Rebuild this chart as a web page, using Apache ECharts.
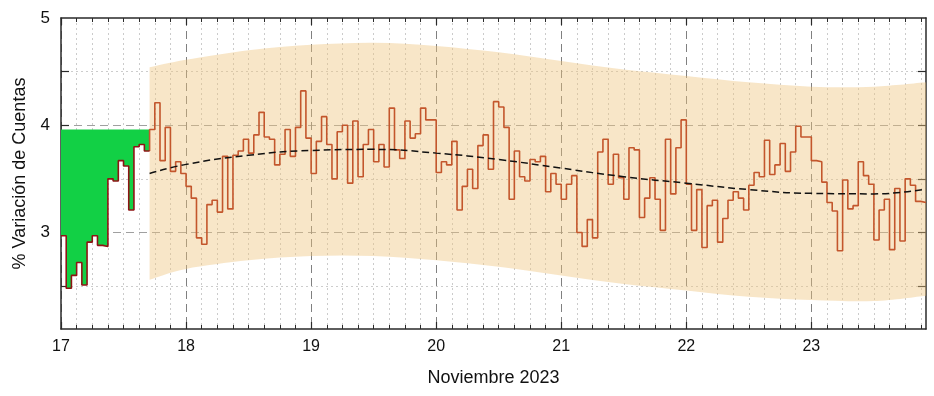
<!DOCTYPE html>
<html><head><meta charset="utf-8">
<script src="https://cdn.jsdelivr.net/npm/echarts@6/dist/echarts.min.js"></script>
<style>html,body{margin:0;padding:0;background:#fff}#c{width:934px;height:396px}</style>
</head><body><div id="c"></div>
<script>
// ---- data ----
const startDay = 17;            // 17 Nov 2023, 00:00
const stepDays = 1 / 24;        // hourly bins
const xMax = 17 + 166 / 24;
const greenBaseline = 3.96;
const greenValues = [2.97, 2.48, 2.60, 2.72, 2.51, 2.91, 2.97, 2.88, 2.87, 3.50, 3.48, 3.67, 3.62, 3.21, 3.80, 3.82, 3.76];
const orangeValues = [
  3.96, 4.21, 3.67, 3.98, 3.57, 3.66, 3.55, 3.43, 3.32, 2.95, 2.89, 3.26, 3.30, 3.19, 3.71, 3.22,
  3.72, 3.76, 3.87, 3.74, 3.91, 4.12, 3.89, 3.87, 3.63, 3.73, 3.96, 3.71, 3.98, 4.32, 3.88, 3.55,
  3.85, 4.08, 3.82, 3.50, 3.94, 4.00, 3.46, 4.04, 3.52, 3.82, 3.96, 3.66, 3.82, 3.61, 4.16, 3.77,
  3.69, 4.04, 3.88, 3.92, 4.16, 4.05, 4.05, 3.56, 3.66, 3.63, 3.85, 3.21, 3.43, 3.59, 3.41, 3.81,
  3.91, 3.59, 4.22, 4.17, 3.98, 3.31, 3.76, 3.52, 3.48, 3.68, 3.66, 3.71, 3.38, 3.55, 3.45, 3.31,
  3.45, 3.53, 3.00, 2.87, 3.12, 2.95, 3.75, 3.87, 3.45, 3.73, 3.51, 3.31, 3.79, 3.77, 3.14, 3.32,
  3.51, 3.31, 3.02, 3.87, 3.36, 3.79, 4.05, 3.45, 3.02, 3.40, 2.86, 3.25, 3.30, 2.91, 3.13, 3.30,
  3.38, 3.32, 3.21, 3.44, 3.56, 3.52, 3.86, 3.54, 3.63, 3.83, 3.57, 3.75, 3.99, 3.89, 3.89, 3.67,
  3.66, 3.47, 3.28, 3.20, 2.83, 3.49, 3.22, 3.25, 3.66, 3.53, 3.45, 2.93, 3.21, 3.31, 2.84, 3.41,
  2.92, 3.50, 3.44, 3.29, 3.28
];
const bandX     = [17.7083, 18.0, 18.5, 19.0, 19.5, 20.0, 20.5, 21.0, 21.5, 22.0, 22.5, 23.0, 23.5, 23.9167];
const bandUpper = [4.54, 4.61, 4.70, 4.75, 4.77, 4.74, 4.68, 4.60, 4.52, 4.46, 4.40, 4.36, 4.36, 4.40];
const bandLower = [2.56, 2.66, 2.74, 2.78, 2.78, 2.74, 2.68, 2.60, 2.52, 2.46, 2.40, 2.37, 2.36, 2.41];
const trendValues = [3.55, 3.635, 3.72, 3.765, 3.775, 3.74, 3.68, 3.60, 3.52, 3.46, 3.40, 3.365, 3.36, 3.405];
const dayTicks = [17, 18, 19, 20, 21, 22, 23];
const yLabelValues = [3, 4, 5];
const yTickValues = [2.5, 3, 3.5, 4, 4.5];
const yMajorGrid = [3, 4];
const yMinorGrid = [2.5, 3.5, 4.5];
const xTitle = 'Noviembre 2023';
const yTitle = '% Variación de Cuentas';

// ---- build series data ----
const greenData = greenValues.map((v, i) => [startDay + i * stepDays, v]);
greenData.push([startDay + greenValues.length * stepDays, greenValues[greenValues.length - 1]]);
const o0 = greenValues.length;
const orangeData = [[startDay + o0 * stepDays, greenValues[o0 - 1]]];
orangeValues.forEach((v, i) => orangeData.push([startDay + (o0 + i) * stepDays, v]));
orangeData.push([startDay + (o0 + orangeValues.length) * stepDays, orangeValues[orangeValues.length - 1]]);
const trendData = bandX.map((x, i) => [x, trendValues[i]]);
const minorX = [];
dayTicks.forEach(d => { for (let j = 1; j < 8; j++) { const v = d + j / 8; if (v < xMax - 1e-6) minorX.push(v); } });

const FONT = '"Liberation Sans", Arial, sans-serif';
const AX = { color: '#2a2a2a', width: 1.5 };

function curve(pts) {
  let d = '';
  for (let i = 0; i < pts.length - 1; i++) {
    const p0 = pts[i - 1] || pts[i], p1 = pts[i], p2 = pts[i + 1], p3 = pts[i + 2] || pts[i + 1];
    const c1 = [p1[0] + (p2[0] - p0[0]) / 6, p1[1] + (p2[1] - p0[1]) / 6];
    const c2 = [p2[0] - (p3[0] - p1[0]) / 6, p2[1] - (p3[1] - p1[1]) / 6];
    d += ' C' + c1[0] + ' ' + c1[1] + ' ' + c2[0] + ' ' + c2[1] + ' ' + p2[0] + ' ' + p2[1];
  }
  return d;
}

const chart = echarts.init(document.getElementById('c'), null, { renderer: 'canvas' });
chart.setOption({
  animation: false,
  backgroundColor: '#fff',
  grid: { left: 61, right: 8, top: 18, bottom: 67 },
  xAxis: [
    { type: 'value', min: startDay, max: xMax, position: 'bottom',
      axisLine: { onZero: false, lineStyle: AX },
      axisTick: { customValues: dayTicks, inside: true, length: 7, lineStyle: { color: '#2a2a2a', width: 1.2 } },
      axisLabel: { customValues: dayTicks, fontSize: 16, color: '#111', margin: 10, fontFamily: FONT },
      splitLine: { show: true, lineStyle: { type: [8, 5], color: '#808080', width: 1 } },
      name: xTitle, nameLocation: 'middle', nameGap: 40,
      nameTextStyle: { fontSize: 18, color: '#111', fontFamily: FONT } },
    { type: 'value', min: startDay, max: xMax, position: 'top',
      axisLine: { onZero: false, lineStyle: AX },
      axisTick: { customValues: dayTicks, inside: true, length: 7, lineStyle: { color: '#2a2a2a', width: 1.2 } },
      axisLabel: { show: false }, splitLine: { show: false } },
    { type: 'value', min: startDay, max: xMax, position: 'bottom',
      axisLine: { show: false, onZero: false },
      axisTick: { customValues: minorX, inside: true, length: 4, lineStyle: { color: '#2a2a2a', width: 1 } },
      axisLabel: { show: false },
      splitLine: { show: true, lineStyle: { type: [2, 3], color: '#cbcbcb', width: 1 } } },
    { type: 'value', min: startDay, max: xMax, position: 'top',
      axisLine: { show: false, onZero: false },
      axisTick: { customValues: minorX, inside: true, length: 4, lineStyle: { color: '#2a2a2a', width: 1 } },
      axisLabel: { show: false }, splitLine: { show: false } }
  ],
  yAxis: [
    { type: 'value', min: 2.1, max: 5, position: 'left',
      axisLine: { onZero: false, lineStyle: AX },
      axisTick: { customValues: yTickValues, inside: true, length: 8, lineStyle: { color: '#2a2a2a', width: 1.2 } },
      axisLabel: { customValues: yLabelValues, fontSize: 17, color: '#111', margin: 11, fontFamily: FONT },
      splitLine: { show: false },
      name: yTitle, nameLocation: 'middle', nameGap: 32, nameRotate: 90,
      nameTextStyle: { fontSize: 18, color: '#111', fontFamily: FONT } },
    { type: 'value', min: 2.1, max: 5, position: 'right',
      axisLine: { onZero: false, lineStyle: AX },
      axisTick: { customValues: yTickValues, inside: true, length: 8, lineStyle: { color: '#2a2a2a', width: 1.2 } },
      axisLabel: { show: false }, splitLine: { show: false } },
    { type: 'value', min: 2.1, max: 5, position: 'left',
      axisLine: { show: false }, axisTick: { show: false, customValues: yMajorGrid },
      axisLabel: { show: false },
      splitLine: { show: true, lineStyle: { type: [8, 5], color: '#a0a0a0', width: 1 } } },
    { type: 'value', min: 2.1, max: 5, position: 'left',
      axisLine: { show: false }, axisTick: { show: false, customValues: yMinorGrid },
      axisLabel: { show: false },
      splitLine: { show: true, lineStyle: { type: [2, 3], color: '#cdcdcd', width: 1 } } }
  ],
  series: [
    { type: 'custom', name: 'band', silent: true, z: 1,
      data: [[bandX[0], bandUpper[0]]],
      encode: { x: 0, y: 1 },
      renderItem: function (params, api) {
        const up = bandX.map((x, i) => api.coord([x, bandUpper[i]]));
        const lo = bandX.map((x, i) => api.coord([x, bandLower[i]])).reverse();
        const d = 'M' + up[0][0] + ' ' + up[0][1] + curve(up) +
                  ' L' + lo[0][0] + ' ' + lo[0][1] + curve(lo) + ' Z';
        return { type: 'path', shape: { pathData: d }, style: { fill: 'rgba(238,196,125,0.42)', stroke: null } };
      } },
    { type: 'line', name: 'obs', data: orangeData, step: 'end', symbol: 'none', z: 3,
      lineStyle: { color: '#c3562c', width: 1.6 } },
    { type: 'line', name: 'prev', data: greenData, step: 'end', symbol: 'none', z: 3,
      lineStyle: { color: '#8e1414', width: 1.6 },
      areaStyle: { color: '#12d045', opacity: 1, origin: greenBaseline } },
    { type: 'line', name: 'trend', data: trendData, smooth: true, symbol: 'none', z: 4,
      lineStyle: { color: '#111', width: 1.5, type: [7, 4] } }
  ]
});
</script></body></html>
